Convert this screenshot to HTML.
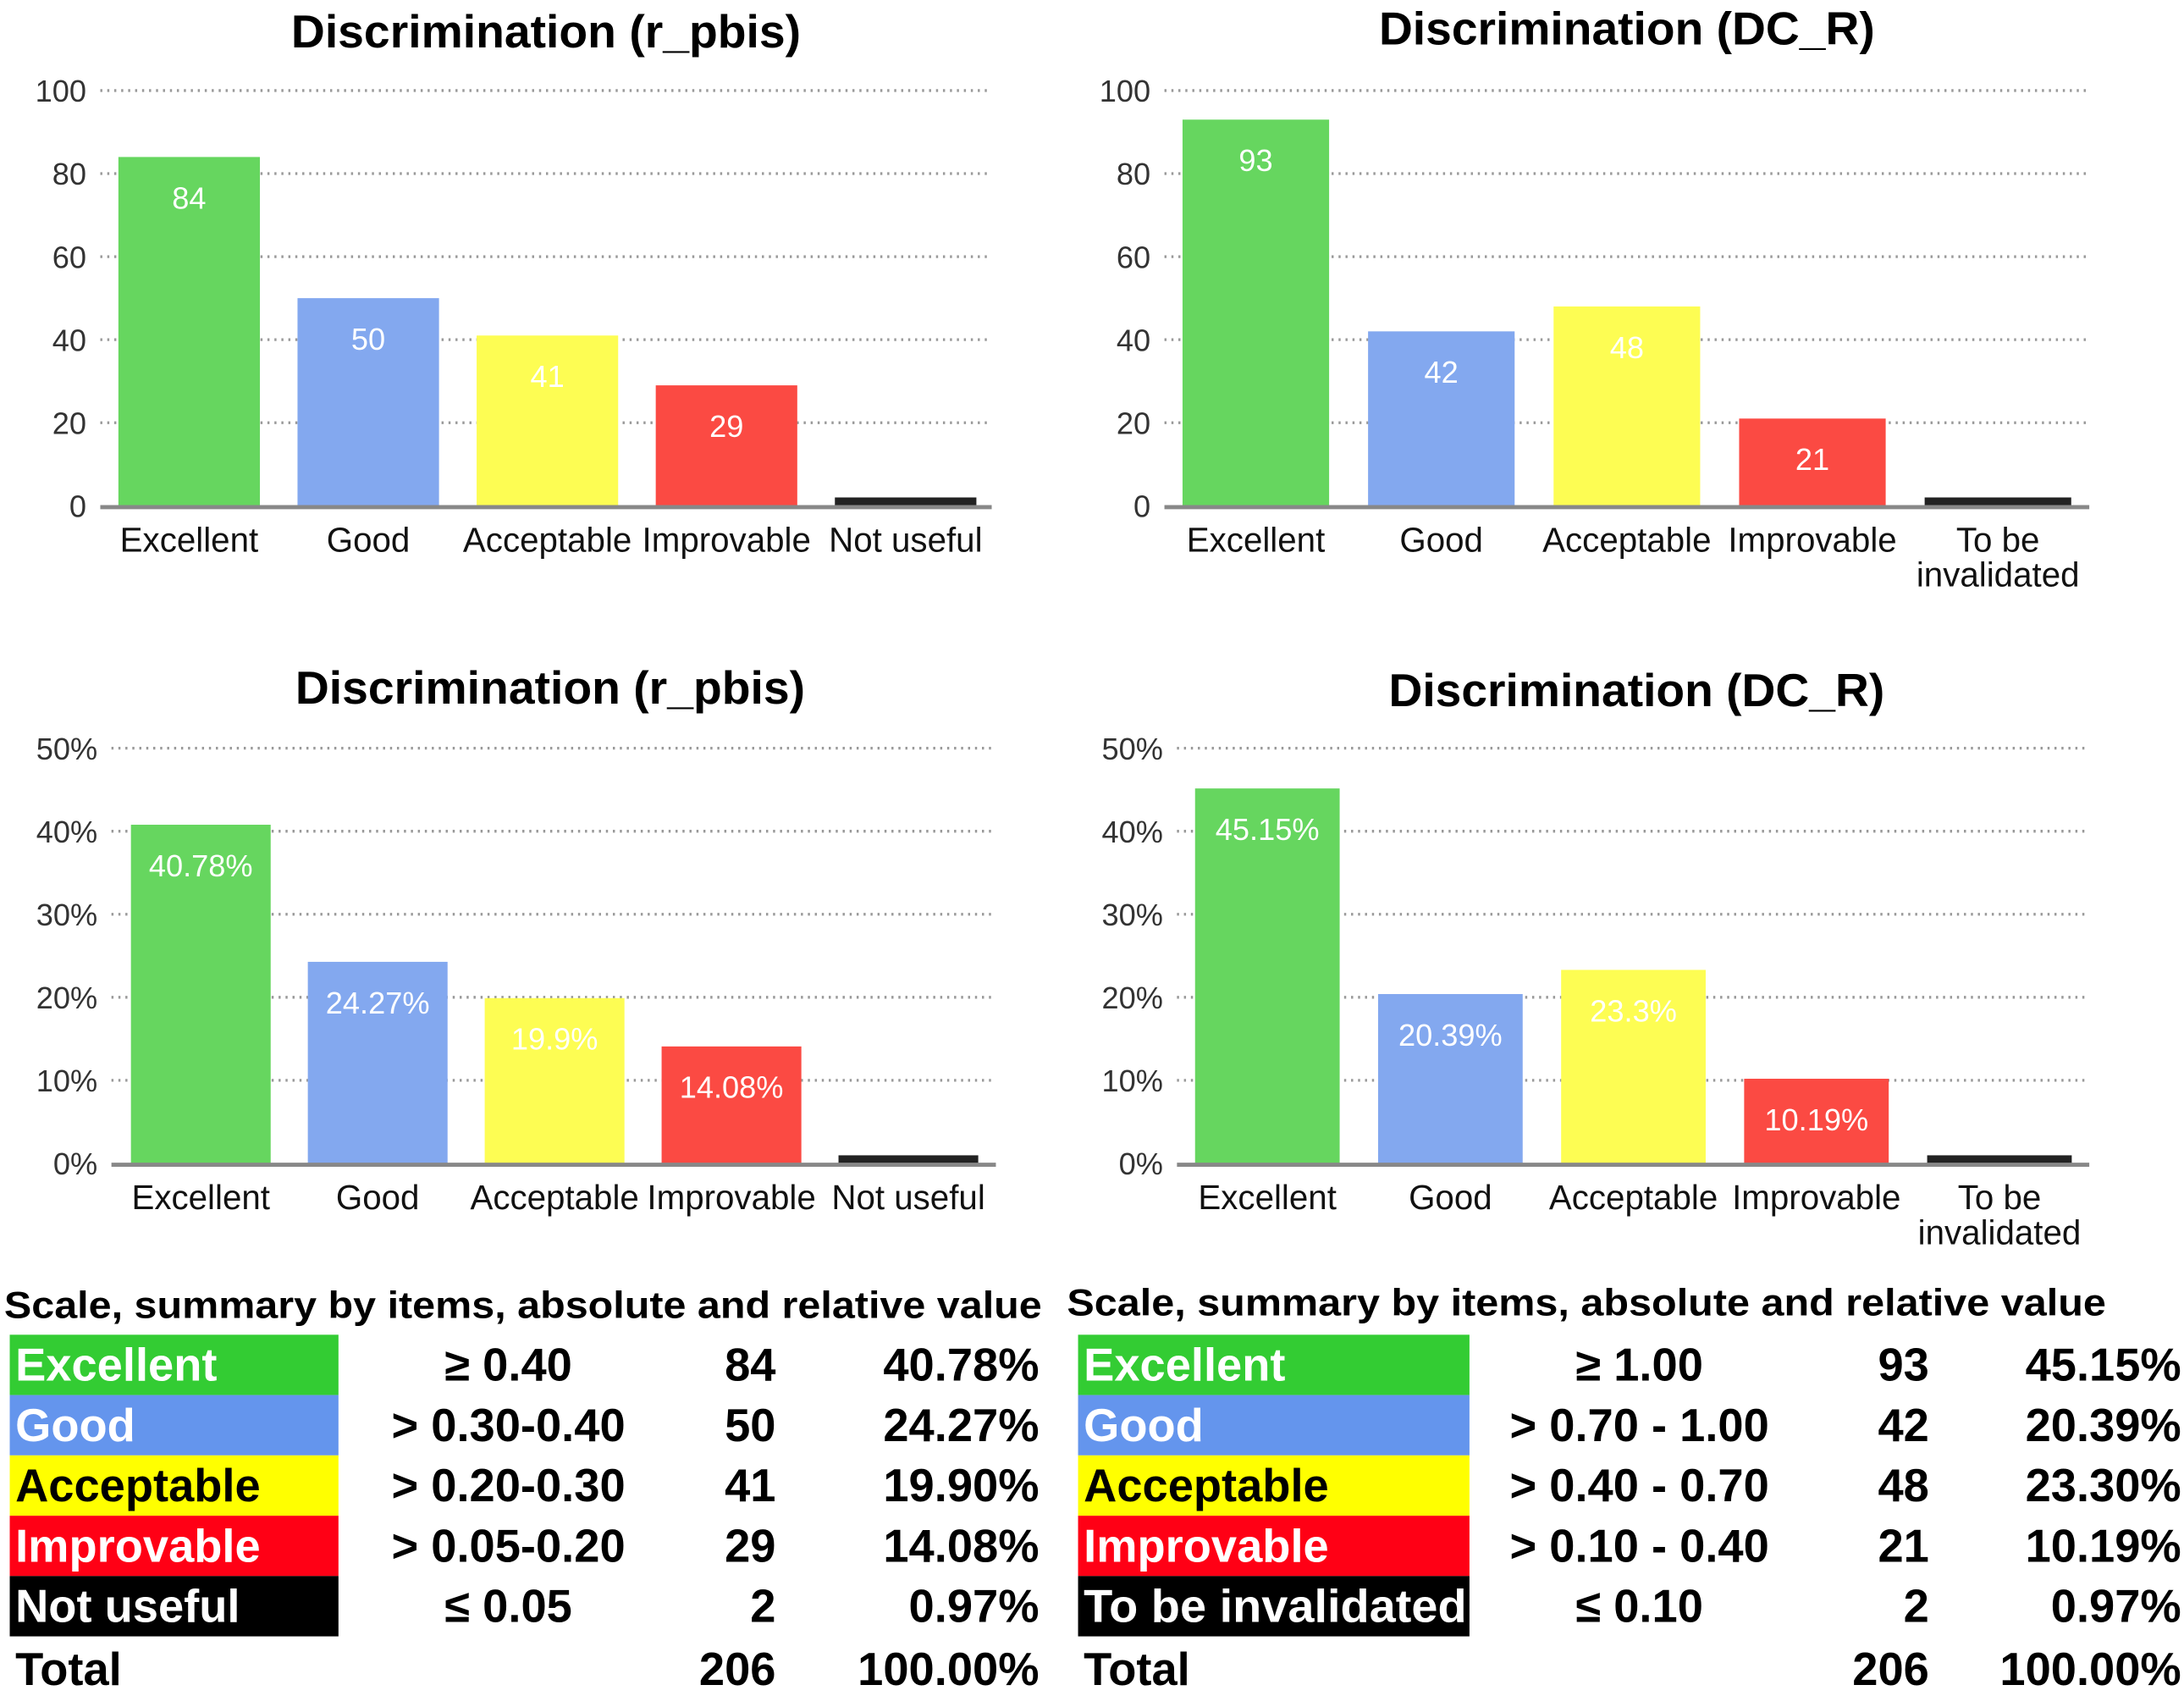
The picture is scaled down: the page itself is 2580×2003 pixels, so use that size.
<!DOCTYPE html>
<html><head><meta charset="utf-8"><style>
html,body{margin:0;padding:0;background:#fff;width:2580px;height:2003px;overflow:hidden}
svg{display:block}
text{font-family:"Liberation Sans",sans-serif}
</style></head><body>
<svg id="root" width="2580" height="2003" viewBox="0 0 1568 1217.3" preserveAspectRatio="none" xmlns="http://www.w3.org/2000/svg"></svg>
<script>
const categoriesA = ["Excellent","Good","Acceptable","Improvable","Not useful"];
const categoriesB = ["Excellent","Good","Acceptable","Improvable","To be|invalidated"];
const countsA = [84,50,41,29,2];
const countsB = [93,42,48,21,2];
const pctA = [40.78,24.27,19.9,14.08,0.97];
const pctB = [45.15,20.39,23.3,10.19,0.97];
const pctLabelsA = ["40.78%","24.27%","19.9%","14.08%",""];
const pctLabelsB = ["45.15%","20.39%","23.3%","10.19%",""];
const countTicks = [0,20,40,60,80,100];
const pctTicks = [0,10,20,30,40,50];
const barColors = ["#66d65f","#83a8ef","#fdfd53","#fb4a43","#222222"];
const rangesA = ["≥ 0.40","> 0.30-0.40","> 0.20-0.30","> 0.05-0.20","≤ 0.05"];
const rangesB = ["≥ 1.00","> 0.70 - 1.00","> 0.40 - 0.70","> 0.10 - 0.40","≤ 0.10"];
const tableLabelsA = ["Excellent","Good","Acceptable","Improvable","Not useful"];
const tableLabelsB = ["Excellent","Good","Acceptable","Improvable","To be invalidated"];
const tablePctA = ["40.78%","24.27%","19.90%","14.08%","0.97%"];
const tablePctB = ["45.15%","20.39%","23.30%","10.19%","0.97%"];
const totalCount = "206";
const totalPct = "100.00%";
const tableColors = ["#33cc33","#6495ed","#ffff00","#ff0015","#000000"];
const tableTextColors = ["#fff","#fff","#000","#fff","#fff"];

const NS="http://www.w3.org/2000/svg";
const root=document.getElementById('root');
function mk(tag,attrs,parent,txt){const e=document.createElementNS(NS,tag);for(const k in attrs)e.setAttribute(k,attrs[k]);if(txt!==undefined)e.textContent=txt;(parent||root).appendChild(e);return e;}

function chart(cfg){
  const g=mk('g',{});
  
  
  const t=mk('text',{x:cfg.titleX,y:cfg.titleY,'text-anchor':'middle','font-size':33,'font-weight':'bold',fill:'#000',textLength:cfg.titleLen,lengthAdjust:'spacingAndGlyphs'},g,cfg.title);
  
  
  const y=v=>cfg.y0-(v/cfg.max)*(cfg.y0-cfg.yTop);
  cfg.ticks.forEach(v=>{
    const lbl=mk('text',{x:cfg.axisX,y:y(v)+8,'text-anchor':'end','font-size':22,fill:'#333'},g,v+cfg.suffix);
    
    
    if(v>0){const l=mk('line',{x1:cfg.x0,x2:cfg.x1,y1:y(v),y2:y(v),stroke:'#999','stroke-width':2,'stroke-dasharray':'1.5 3.5'},g);
      
      }
  });
  const n=cfg.values.length;
  const step=(cfg.bx1-cfg.bx0)/n;
  const bw=step*0.79;
  cfg.values.forEach((v,i)=>{
    const bx=cfg.bx0+i*step;
    const r=mk('rect',{x:bx,y:y(v),width:bw,height:cfg.y0-y(v),fill:barColors[i]},g);
    
    
    if(cfg.labels[i]){
      const vl=mk('text',{x:bx+bw/2,y:y(v)+37,'text-anchor':'middle','font-size':22,fill:'#fff'},g,cfg.labels[i]);
      
      
    }
    const parts=cfg.cats[i].split('|');
    parts.forEach((p,j)=>{
      const cl=mk('text',{x:bx+bw/2,y:cfg.y0+33+j*25,'text-anchor':'middle','font-size':24.5,fill:'#111'},g,p);
      
      
    });
  });
  const ax=mk('line',{x1:cfg.x0,x2:cfg.x1,y1:cfg.y0+1,y2:cfg.y0+1,stroke:'#888','stroke-width':3},g);
  
  
}
chart({name:'chart-count-rpbis',title:'Discrimination (r_pbis)',titleX:392,titleY:34,titleLen:366,axisX:62,x0:72,x1:712,bx0:85,bx1:728,y0:363,yTop:65,max:100,ticks:countTicks,suffix:'',values:countsA,labels:countsA.map(String),cats:categoriesA});
chart({name:'chart-count-dcr',title:'Discrimination (DC_R)',titleX:1168,titleY:32,titleLen:356,axisX:826,x0:836,x1:1500,bx0:849,bx1:1515,y0:363,yTop:65,max:100,ticks:countTicks,suffix:'',values:countsB,labels:countsB.map(String).map((s,i)=>i<4?s:''),cats:categoriesB});
chart({name:'chart-pct-rpbis',title:'Discrimination (r_pbis)',titleX:395,titleY:505,titleLen:366,axisX:70,x0:80,x1:715,bx0:94,bx1:729,y0:835,yTop:537,max:50,ticks:pctTicks,suffix:'%',values:pctA,labels:pctLabelsA,cats:categoriesA});
chart({name:'chart-pct-dcr',title:'Discrimination (DC_R)',titleX:1175,titleY:507,titleLen:356,axisX:835,x0:845,x1:1500,bx0:858,bx1:1515,y0:835,yTop:537,max:50,ticks:pctTicks,suffix:'%',values:pctB,labels:pctLabelsB,cats:categoriesB});

function table(cfg){
  const g=mk('g',{});
  
  
  const t=mk('text',{x:cfg.tx,y:cfg.ty,'font-size':27,'font-weight':'bold',fill:'#000',textLength:cfg.tlen,lengthAdjust:'spacingAndGlyphs'},g,'Scale, summary by items, absolute and relative value');
  
  
  const rh=43.3, top=958;
  for(let i=0;i<5;i++){
    const ry=top+i*rh;
    const r=mk('rect',{x:cfg.cx0,y:ry,width:cfg.cx1-cfg.cx0,height:rh,fill:tableColors[i]},g);
    
    
    const tb=ry+33;
    const lab=cfg.labels[i];
    const a={x:cfg.cx0+4,y:tb,'font-size':33,'font-weight':'bold',fill:tableTextColors[i]};
    if(lab.length>12){a.textLength=cfg.cx1-cfg.cx0-6;a.lengthAdjust='spacingAndGlyphs';}
    const l1=mk('text',a,g,lab);
    
    
    const l2=mk('text',{x:cfg.rc,y:tb,'text-anchor':'middle','font-size':33,'font-weight':'bold',fill:'#000'},g,cfg.ranges[i]);
    
    
    const l3=mk('text',{x:cfg.cr,y:tb,'text-anchor':'end','font-size':33,'font-weight':'bold',fill:'#000'},g,String(cfg.counts[i]));
    
    
    const l4=mk('text',{x:cfg.pr,y:tb,'text-anchor':'end','font-size':33,'font-weight':'bold',fill:'#000'},g,cfg.pcts[i]);
    
    
  }
  const ty=top+5*rh+35;
  const a=mk('text',{x:cfg.cx0+4,y:ty,'font-size':33,'font-weight':'bold',fill:'#000'},g,'Total');
  
  
  const b=mk('text',{x:cfg.cr,y:ty,'text-anchor':'end','font-size':33,'font-weight':'bold',fill:'#000'},g,totalCount);
  
  
  const c=mk('text',{x:cfg.pr,y:ty,'text-anchor':'end','font-size':33,'font-weight':'bold',fill:'#000'},g,totalPct);
  
  
}
table({name:'summary-table-rpbis',tx:3,ty:946,tlen:745,cx0:7,cx1:243,rc:365,cr:557,pr:746,labels:tableLabelsA,ranges:rangesA,counts:countsA,pcts:tablePctA});
table({name:'summary-table-dcr',tx:766,ty:944,tlen:746,cx0:774,cx1:1055,rc:1177,cr:1385,pr:1566,labels:tableLabelsB,ranges:rangesB,counts:countsB,pcts:tablePctB});
</script>
</body></html>
